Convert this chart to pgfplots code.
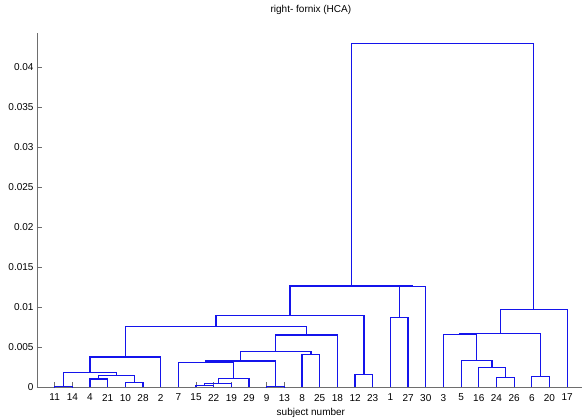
\documentclass[border=0pt]{standalone}
\usepackage{pgfplots}
\pgfplotsset{compat=1.18}
\usepackage{fontspec}
\setmainfont{Liberation Sans}
\definecolor{dend}{RGB}{20,20,235}
\definecolor{axgray}{RGB}{110,110,110}
\begin{document}
\fontsize{10}{12}\selectfont
\begin{tikzpicture}[x=1pt,y=1pt]
\begin{axis}[
  at={(37pt,31pt)}, anchor=south west,
  scale only axis,
  width=547.8pt, height=354pt,
  xmin=0, xmax=31, ymin=0, ymax=0.04425,
  axis x line*=bottom, axis y line*=left,
  axis line style={draw=axgray, line width=0.8pt},
  tick align=inside,
  major tick length=5pt,
  tick style={draw=axgray, line width=0.6pt},
  scaled y ticks=false,
  xtick={1,...,30},
  xticklabels={11,14,4,21,10,28,2,7,15,22,19,29,9,13,8,25,18,12,23,1,27,30,3,5,16,24,26,6,20,17},
  ytick={0,0.005,0.01,0.015,0.02,0.025,0.03,0.035,0.04},
  yticklabels={0,0.005,0.01,0.015,0.02,0.025,0.03,0.035,0.04},
  ticklabel style={font=\fontsize{10}{12}\selectfont},
  xticklabel style={yshift=-3.5pt},
  title={right- fornix (HCA)},
  title style={at={(0.5,1)}, anchor=base, yshift=14pt, font=\fontsize{10}{12}\selectfont},
  xlabel={subject number},
  xlabel style={at={(0.5,0)}, anchor=base, yshift=-28.5pt, font=\fontsize{10}{12}\selectfont},
  unbounded coords=jump,
  clip=false,
]
\addplot[color=dend, draw=dend, solid, line width=1.2pt, mark=none] coordinates {
% left group
(1,0) (1,0.00003) (2,0.00003) (2,0) (0,nan)
(3,0) (3,0.0010) (4,0.0010) (4,0) (0,nan)
(5,0) (5,0.0006) (6,0.0006) (6,0) (0,nan)
(3.5,0.0010) (3.5,0.00146) (5.5,0.00146) (5.5,0.0006) (0,nan)
(1.5,0.00003) (1.5,0.00184) (4.5,0.00184) (4.5,0.00146) (0,nan)
(3,0.00184) (3,0.00375) (7,0.00375) (7,0) (0,nan)
% middle group
(9,0) (9,0.0002) (10,0.0002) (10,0) (0,nan)
(9.5,0.0002) (9.5,0.00046) (11,0.00046) (11,0) (0,nan)
(10.25,0.00046) (10.25,0.0011) (12,0.0011) (12,0) (0,nan)
(13,0) (13,0.00003) (14,0.00003) (14,0) (0,nan)
(15,0) (15,0.0041) (16,0.0041) (16,0) (0,nan)
(8,0) (8,0.0031) (11.125,0.0031) (11.125,0.0011) (0,nan)
(9.5625,0.0031) (9.5625,0.00325) (13.5,0.00325) (13.5,0.00003) (0,nan)
(11.53125,0.00325) (11.53125,0.0044) (15.5,0.0044) (15.5,0.0041) (0,nan)
(13.515625,0.0044) (13.515625,0.0065) (17,0.0065) (17,0) (0,nan)
(5,0.00375) (5,0.0076) (15.2578,0.0076) (15.2578,0.0065) (0,nan)
(18,0) (18,0.0016) (19,0.0016) (19,0) (0,nan)
(10.1289,0.0076) (10.1289,0.0089) (18.5,0.0089) (18.5,0.0016) (0,nan)
(20,0) (20,0.0087) (21,0.0087) (21,0) (0,nan)
(20.5,0.0087) (20.5,0.01254) (22,0.01254) (22,0) (0,nan)
(14.3145,0.0089) (14.3145,0.01263) (21.25,0.01263) (21.25,0.01254) (0,nan)
% right group
(26,0) (26,0.0012) (27,0.0012) (27,0) (0,nan)
(25,0) (25,0.00246) (26.5,0.00246) (26.5,0.0012) (0,nan)
(24,0) (24,0.0033) (25.75,0.0033) (25.75,0.00246) (0,nan)
(28,0) (28,0.00133) (29,0.00133) (29,0) (0,nan)
(23,0) (23,0.00658) (24.875,0.00658) (24.875,0.0033) (0,nan)
(23.9375,0.00658) (23.9375,0.00667) (28.5,0.00667) (28.5,0.00133) (0,nan)
(26.21875,0.00667) (26.21875,0.0097) (30,0.0097) (30,0) (0,nan)
% root
(17.782,0.01263) (17.782,0.0429) (28.109,0.0429) (28.109,0.0097)
};
\end{axis}
\pgfresetboundingbox
\path[use as bounding box] (0,0) rectangle (582,418);
\end{tikzpicture}
\end{document}
